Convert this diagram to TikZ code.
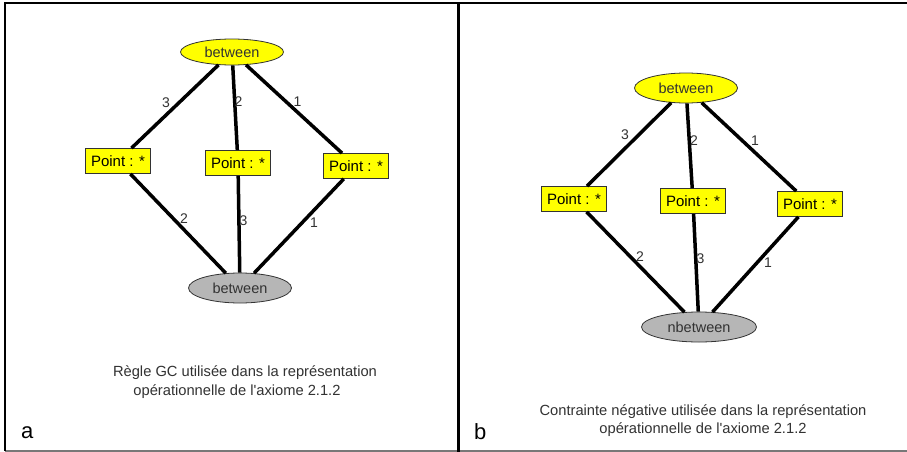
\documentclass[tikz,border=0pt]{standalone}
\usepackage{fontspec}
\setmainfont{Liberation Sans}
\usetikzlibrary{shapes.geometric}
\definecolor{nodeyellow}{RGB}{255,255,0}
\definecolor{ellgray}{RGB}{182,182,182}
\definecolor{txtgray}{RGB}{50,50,50}
\definecolor{framegray}{RGB}{120,120,120}
\tikzset{
  relnode/.style={ellipse, draw=black!80, line width=0.8pt, fill=nodeyellow, inner sep=0pt,
    minimum width=103pt, minimum height=26pt, font=\fontsize{14.5}{16}\selectfont, text=txtgray},
  negnode/.style={relnode, fill=ellgray},
  conceptbox/.style={rectangle, draw=black!80, line width=0.8pt, fill=nodeyellow, inner sep=0pt,
    minimum width=65pt, minimum height=25pt, font=\fontsize{15}{16}\selectfont, text=black},
  edgeline/.style={draw=black, line width=3.5pt},
  lbl/.style={inner sep=0pt, font=\fontsize{14}{16}\selectfont, text=txtgray},
  captiontext/.style={inner sep=0pt, font=\fontsize{14.7}{17}\selectfont, text=txtgray},
  panelletter/.style={inner sep=0pt, font=\fontsize{22}{24}\selectfont, text=black}
}
\begin{document}
\begin{tikzpicture}[x=1pt,y=-1pt]
\useasboundingbox (0,0) rectangle (907,452);
\fill[white] (0,0) rectangle (907,452);
% frame
\draw[framegray, line width=1.5pt] (5,451) -- (907,451);
\draw[black, line width=2pt] (4,3.5) -- (907,3.5);
\draw[black, line width=2pt] (5,3) -- (5,451);
\draw[black, line width=3pt] (458.5,3) -- (458.5,452);

% ----- panel a -----
\node[relnode] (ta) at (232,52) {between};
\node[conceptbox] (pa1) at (118,161) {Point : *};
\node[conceptbox] (pa2) at (238,163) {Point : *};
\node[conceptbox] (pa3) at (356,166) {Point : *};
\node[negnode, minimum height=30pt] (ba) at (240,288) {between};

\draw[edgeline] (ta) -- node[lbl, shift={(-9,-4)}] (la1) {3} (pa1);
\draw[edgeline] (ta) -- node[lbl, shift={(3.5,-6)}] (la2) {2} (pa2);
\draw[edgeline] (ta) -- node[lbl, shift={(3.5,-7)}] (la3) {1} (pa3);
\draw[edgeline] (pa1) -- node[lbl, shift={(6,-5)}] (la4) {2} (ba);
\draw[edgeline] (pa2) -- node[lbl, shift={(4.5,-3.5)}] (la5) {3} (ba);
\draw[edgeline] (pa3) -- node[lbl, shift={(15,-3.5)}] (la6) {1} (ba);

\node[captiontext] (ca1) at (245,373) {Règle GC utilisée dans la représentation};
\node[captiontext] (ca2) at (237,392) {opérationnelle de l\textquotesingle axiome 2.1.2};
\node[panelletter, anchor=base west] (pla) at (21,438) {a};

% ----- panel b -----
\node[relnode, minimum height=30pt] (tb) at (686,88) {between};
\node[conceptbox] (pb1) at (574,199) {Point : *};
\node[conceptbox] (pb2) at (693,201) {Point : *};
\node[conceptbox] (pb3) at (810,204) {Point : *};
\node[negnode, minimum width=115pt, minimum height=30pt] (bb) at (699,327) {nbetween};

\draw[edgeline] (tb) -- node[lbl, shift={(-4,-10)}] (lb1) {3} (pb1);
\draw[edgeline] (tb) -- node[lbl, shift={(4.5,-5.5)}] (lb2) {2} (pb2);
\draw[edgeline] (tb) -- node[lbl, shift={(6,-6)}] (lb3) {1} (pb3);
\draw[edgeline] (pb1) -- node[lbl, shift={(4.5,-5)}] (lb4) {2} (bb);
\draw[edgeline] (pb2) -- node[lbl, shift={(4.5,-4.5)}] (lb5) {3} (bb);
\draw[edgeline] (pb3) -- node[lbl, shift={(12.5,-1.5)}] (lb6) {1} (bb);

\node[captiontext] (cb1) at (703,412) {Contrainte négative utilisée dans la représentation};
\node[captiontext] (cb2) at (703,430) {opérationnelle de l\textquotesingle axiome 2.1.2};
\node[panelletter, anchor=base west] (plb) at (474,439) {b};
\end{tikzpicture}
\end{document}
